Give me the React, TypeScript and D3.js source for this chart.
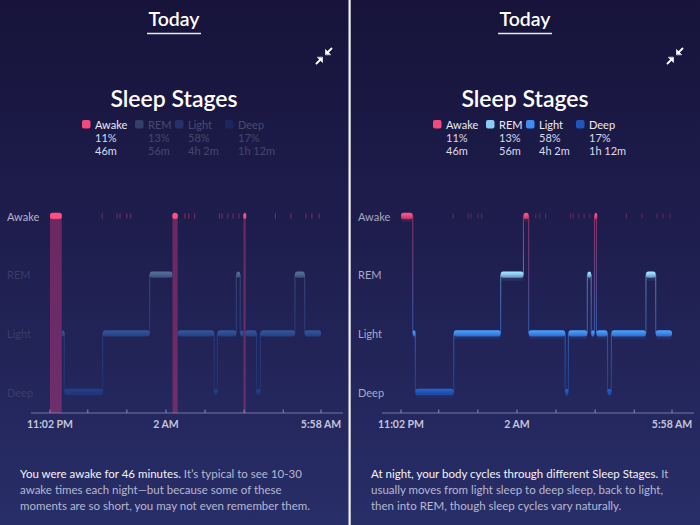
import React from "react";
import * as d3 from "d3";

// ---------- data ----------
const STAGES = ["Awake", "REM", "Light", "Deep"];
const STAGE_COLORS = ["#f2487a", "#8ccaf7", "#3f8cf3", "#1f56b9"];
const LEGEND_PCT = ["11%", "13%", "58%", "17%"];
const LEGEND_DUR = ["46m", "56m", "4h 2m", "1h 12m"];

// hypnogram segments (minutes after 11:02 PM)
const SEG_STAGE = [
  "Awake", "Light", "Deep", "Light", "REM", "Awake", "Light", "Deep", "Light",
  "REM", "Light", "Awake", "Light", "Deep", "Light", "REM", "Light",
];
const SEG_BOUNDS = [0, 18, 22, 81, 153, 188, 196, 252, 257, 286, 292, 297, 300, 317, 323, 376, 391, 416];

// brief awakenings shown as ticks on the Awake row (minutes)
const AWAKE_TICKS = [80, 103, 107.5, 118, 124, 207, 213, 222, 260, 264, 273, 281, 290, 346, 370, 393, 402, 413];

const AXIS_TICKS = [0, 58, 118, 178, 238, 298, 358, 416];
const AXIS_LABEL_AT = [0, 178, 416];
const AXIS_LABELS = ["11:02 PM", "2 AM", "5:58 AM"];

const TEXT_LEFT = [
  ["You were awake for 46 minutes.", " It’s typical to see 10-30"],
  ["", "awake times each night—but because some of these"],
  ["", "moments are so short, you may not even remember them."],
];
const TEXT_RIGHT = [
  ["At night, your body cycles through different Sleep Stages.", " It"],
  ["", "usually moves from light sleep to deep sleep, back to light,"],
  ["", "then into REM, though sleep cycles vary naturally."],
];

const FONT = "Lato, 'Open Sans', sans-serif";

function Panel({ offset, mode }: { offset: number; mode: "awake" | "stages" }) {
  const id = mode;
  const x = d3.scaleLinear().domain([0, 416]).range([50, 321]);
  const y = d3.scalePoint<string>().domain(STAGES).range([216, 392]);
  const colorOf = (s: string) => STAGE_COLORS[STAGES.indexOf(s)];
  const segs = SEG_STAGE.map((s, i) => ({ s, a: SEG_BOUNDS[i], b: SEG_BOUNDS[i + 1] }));
  const dim = mode === "awake";
  const legendX = [82, 135, 175, 225];
  const axisY = 413;

  const bars = segs.map((d, i) => {
    const x0 = x(d.a);
    const x1 = x(d.b);
    const w = Math.max(x1 - x0, 2.8);
    const yy = y(d.s) as number;
    const isAwake = d.s === "Awake";
    const op = dim && !isAwake ? 0.4 : 1;
    return (
      <g key={"b" + i} opacity={op}>
        {!dim && (
          <rect x={x0} y={yy + 1} width={w} height={5} rx={2.5} fill={colorOf(d.s)} opacity={0.1} />
        )}
        <rect x={x0} y={yy - 3.2} width={w} height={6.4} rx={2.5} fill={`url(#g-${id}-${d.s})`} />
      </g>
    );
  });

  const transitions = segs.slice(1).map((d, i) => {
    const prev = segs[i];
    const xb = x(d.a);
    const y1 = y(prev.s) as number;
    const y2 = y(d.s) as number;
    const isAwake = d.s === "Awake" || prev.s === "Awake";
    const op = dim ? (isAwake ? 0.0 : 0.22) : 0.5;
    return (
      <g key={"t" + i}>
        <defs>
          <linearGradient id={`tg-${id}-${i}`} gradientUnits="userSpaceOnUse" x1={0} y1={y1} x2={0} y2={y2}>
            <stop offset="0" stopColor={colorOf(prev.s)} />
            <stop offset="1" stopColor={colorOf(d.s)} />
          </linearGradient>
        </defs>
        <line x1={xb} x2={xb} y1={y1} y2={y2} stroke={`url(#tg-${id}-${i})`} strokeWidth={1.1} opacity={op} />
      </g>
    );
  });

  const awakeSegs = segs.filter((d) => d.s === "Awake");

  return (
    <g transform={`translate(${offset},0)`}>
      <defs>
        {STAGES.map((s, i) => {
          const c = d3.color(STAGE_COLORS[i])!;
          return (
            <linearGradient key={s} id={`g-${id}-${s}`} x1="0" y1="0" x2="0" y2="1">
              <stop offset="0" stopColor={c.brighter(0.5).formatHex()} />
              <stop offset="0.45" stopColor={STAGE_COLORS[i]} />
              <stop offset="1" stopColor={STAGE_COLORS[i]} stopOpacity={0.6} />
            </linearGradient>
          );
        })}
      </defs>

      {/* header */}
      <text x={174} y={18} textAnchor="middle" dominantBaseline="central" fill="#ffffff" fontSize={19.5} fontWeight={600} fontFamily={FONT}>
        Today
      </text>
      <line x1={147} x2={201} y1={33.5} y2={33.5} stroke="#e8e8f2" strokeWidth={1.5} />

      {/* compress icon */}
      <g fill="#ffffff" stroke="#ffffff" strokeWidth={1.8} strokeLinecap="round">
        <line x1={331.5} y1={48.5} x2={327.5} y2={52.5} />
        <path d="M325.5,54.5 L325.5,49.5 L330.5,54.5 Z" strokeWidth={0.6} />
        <line x1={316.5} y1={63.5} x2={320.5} y2={59.5} />
        <path d="M322.5,57.5 L322.5,62.5 L317.5,57.5 Z" strokeWidth={0.6} />
      </g>

      {/* title */}
      <text x={174} y={98} textAnchor="middle" dominantBaseline="central" fill="#ffffff" fontSize={23} fontWeight={600} fontFamily={FONT}>
        Sleep Stages
      </text>

      {/* legend */}
      {STAGES.map((s, i) => {
        const on = !dim || s === "Awake";
        const lx = legendX[i];
        return (
          <g key={s} opacity={on ? 1 : 0.22} fontFamily={FONT} fontSize={11}>
            <rect x={lx} y={120} width={8.5} height={8.5} rx={2} fill={STAGE_COLORS[i]} />
            <text x={lx + 13} y={124.5} dominantBaseline="central" fill="#ececf4">{s}</text>
            <text x={lx + 13} y={137.5} dominantBaseline="central" fill="#dcdcea">{LEGEND_PCT[i]}</text>
            <text x={lx + 13} y={150.5} dominantBaseline="central" fill="#dcdcea">{LEGEND_DUR[i]}</text>
          </g>
        );
      })}

      {/* y labels */}
      {STAGES.map((s) => (
        <text
          key={s}
          x={7}
          y={y(s)}
          dominantBaseline="central"
          fontFamily={FONT}
          fontSize={11}
          fill={dim ? (s === "Awake" ? "#b4b4cc" : "#3a3c6c") : "#a8a8c6"}
        >
          {s}
        </text>
      ))}

      {/* awake ticks */}
      {AWAKE_TICKS.map((t, i) => (
        <rect key={"k" + i} x={x(t) - 0.5} y={213.5} width={1} height={5} fill="#f2487a" opacity={dim ? 0.45 : 0.35} />
      ))}

      {/* hypnogram */}
      {transitions}
      {bars}

      {/* awake columns (awake view) */}
      {dim &&
        awakeSegs.map((d, i) => (
          <rect
            key={"c" + i}
            x={x(d.a)}
            y={215}
            width={Math.max(x(d.b) - x(d.a), 2.2)}
            height={axisY - 215}
            fill="#b8337a"
            opacity={0.5}
          />
        ))}
      {dim &&
        awakeSegs.map((d, i) => (
          <rect
            key={"a" + i}
            x={x(d.a)}
            y={213.2}
            width={Math.max(x(d.b) - x(d.a), 2.5)}
            height={5.6}
            rx={2.5}
            fill="#ff4f80"
          />
        ))}

      {/* x axis */}
      <line x1={31} x2={343} y1={axisY} y2={axisY} stroke="#8a8ab4" strokeWidth={1} opacity={0.8} />
      {AXIS_TICKS.map((t, i) => (
        <line key={"xt" + i} x1={x(t)} x2={x(t)} y1={axisY - 3.5} y2={axisY} stroke="#8a8ab4" strokeWidth={1} />
      ))}
      {AXIS_LABELS.map((l, i) => (
        <text
          key={l}
          x={x(AXIS_LABEL_AT[i])}
          y={423.5}
          textAnchor="middle"
          dominantBaseline="central"
          fontFamily={FONT}
          fontSize={10.5}
          fontWeight={700}
          fill="#c4c4da"
        >
          {l}
        </text>
      ))}

      {/* description */}
      {(dim ? TEXT_LEFT : TEXT_RIGHT).map((ln, i) => (
        <text key={"p" + i} x={20} y={473 + i * 16} dominantBaseline="central" fontFamily={FONT} fontSize={11.5}>
          {ln[0] && <tspan fill="#f4f4fa">{ln[0]}</tspan>}
          <tspan fill="#b8b8d0">{ln[1]}</tspan>
        </text>
      ))}
    </g>
  );
}

export default function App() {
  return (
    <svg
      width={700}
      height={525}
      viewBox="0 0 700 525"
      style={{ position: "absolute", left: 0, top: 0, display: "block" }}
    >
      <defs>
        <linearGradient id="bg" x1="0" y1="0" x2="0" y2="1">
          <stop offset="0" stopColor="#17133a" />
          <stop offset="0.5" stopColor="#1f1f50" />
          <stop offset="1" stopColor="#282e68" />
        </linearGradient>
      </defs>
      <rect x={0} y={0} width={700} height={525} fill="url(#bg)" />
      <Panel offset={0} mode="awake" />
      <Panel offset={351} mode="stages" />
      <rect x={348.5} y={0} width={2.2} height={525} fill="#f2f2f8" />
    </svg>
  );
}
